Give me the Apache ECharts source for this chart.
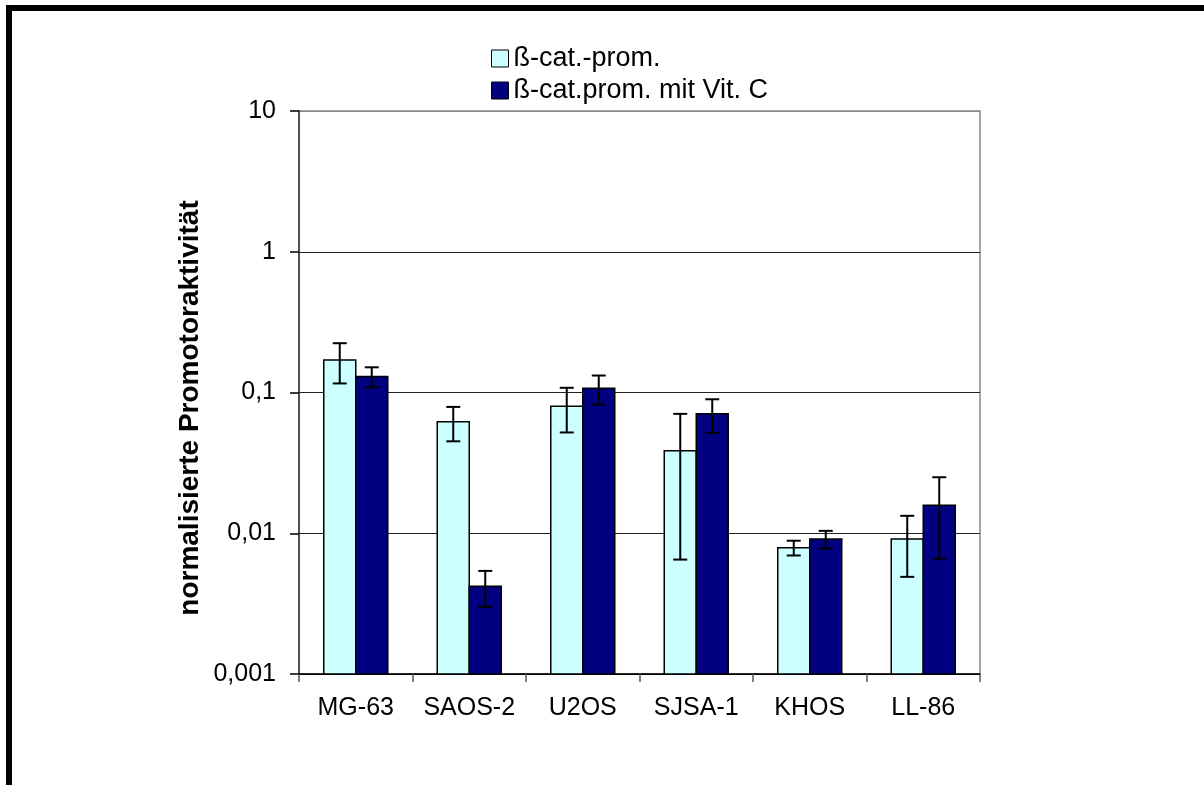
<!DOCTYPE html>
<html>
<head>
<meta charset="utf-8">
<script src="https://cdn.jsdelivr.net/npm/echarts@6/dist/echarts.min.js"></script>
<style>
  html, body { margin: 0; padding: 0; background: #fff; }
  #chart { width: 1204px; height: 785px; }
</style>
</head>
<body>
<div id="chart"></div>
<script>
// Cell lines on the category axis
const categories = ['MG-63', 'SAOS-2', 'U2OS', 'SJSA-1', 'KHOS', 'LL-86'];

// Normalised promoter activity, without vitamin C (mean and +/- error)
const promValues = [0.170, 0.062, 0.080, 0.0385, 0.0079, 0.0091];
const promErrors = [0.054, 0.017, 0.028, 0.032, 0.00095, 0.0042];

// Normalised promoter activity, with vitamin C (mean and +/- error)
const vitCValues = [0.130, 0.0042, 0.107, 0.0705, 0.0091, 0.0158];
const vitCErrors = [0.021, 0.0012, 0.025, 0.019, 0.0013, 0.0092];

// Log axis range and labelled decades
const yMin = 0.001;
const yMax = 10;

const seriesNames = ['ß-cat.-prom.', 'ß-cat.prom. mit Vit. C'];
const seriesColors = ['#CCFFFF', '#000080'];
const yAxisTitle = 'normalisierte Promotoraktivität';

const FONT = "'Liberation Sans', Arial, sans-serif";
const BAR_W = 32;

function seriesData(values, errors) {
  return values.map((v, i) => [i, v, errors[i]]);
}

// Bars rise from the bottom of the log axis, so they are drawn as rects
// from the axis minimum up to the value.
function barRenderer(shift, color) {
  return function (params, api) {
    const idx = api.value(0);
    const top = api.coord([idx, api.value(1)]);
    const base = api.coord([idx, yMin]);
    const cx = top[0] + shift;
    return {
      type: 'rect',
      shape: { x: cx - BAR_W / 2, y: top[1], width: BAR_W, height: base[1] - top[1] },
      style: { fill: color, stroke: '#000', lineWidth: 1.5 }
    };
  };
}

// Whisker with caps over the matching bar
function errorRenderer(shift) {
  return function (params, api) {
    const idx = api.value(0);
    const v = api.value(1);
    const e = api.value(2);
    const hi = api.coord([idx, v + e]);
    const lo = api.coord([idx, v - e]);
    const x = hi[0] + shift;
    const cap = 7;
    const style = { stroke: '#000', lineWidth: 2 };
    return {
      type: 'group',
      children: [
        { type: 'line', shape: { x1: x, y1: hi[1], x2: x, y2: lo[1] }, style },
        { type: 'line', shape: { x1: x - cap, y1: hi[1], x2: x + cap, y2: hi[1] }, style },
        { type: 'line', shape: { x1: x - cap, y1: lo[1], x2: x + cap, y2: lo[1] }, style }
      ]
    };
  };
}

function decadeLabel(val) {
  const exp = Math.round(Math.log10(val));
  const s = exp >= 0 ? String(Math.pow(10, exp)) : '0.' + '0'.repeat(-exp - 1) + '1';
  return s.replace('.', ',');
}

const chart = echarts.init(document.getElementById('chart'), null, { renderer: 'canvas' });

chart.setOption({
  backgroundColor: '#fff',
  animation: false,
  textStyle: { fontFamily: FONT, color: '#000' },
  grid: {
    left: 299, top: 111, right: 224, bottom: 111,
    show: true, borderColor: '#888', borderWidth: 1.5, backgroundColor: 'transparent'
  },
  legend: {
    orient: 'vertical',
    left: 491, top: 45,
    padding: 0,
    icon: 'rect',
    itemWidth: 17, itemHeight: 17,
    itemGap: 5,
    data: seriesNames.map((n, i) => ({
      name: n,
      itemStyle: { color: seriesColors[i], borderColor: '#000', borderWidth: 1 }
    })),
    textStyle: { fontFamily: FONT, fontSize: 27, color: '#000' }
  },
  xAxis: {
    type: 'category',
    data: categories,
    boundaryGap: true,
    axisLine: { lineStyle: { color: '#000', width: 1.5 } },
    axisTick: { show: true, length: 8, inside: false, lineStyle: { color: '#555', width: 1.5 } },
    axisLabel: { fontFamily: FONT, fontSize: 25, color: '#000', margin: 22, interval: 0 },
    splitLine: { show: false }
  },
  yAxis: {
    type: 'log',
    logBase: 10,
    min: yMin,
    max: yMax,
    axisLine: { show: true, lineStyle: { color: '#333', width: 1.5 } },
    axisTick: { show: true, length: 9, inside: false, lineStyle: { color: '#000', width: 1.5 } },
    axisLabel: {
      fontFamily: FONT, fontSize: 25, color: '#000', margin: 23,
      formatter: decadeLabel
    },
    splitLine: { show: true, lineStyle: { color: ['#000', '#222', '#222', '#222', '#888'], width: 1.2 } },
    minorTick: { show: false },
    minorSplitLine: { show: false }
  },
  graphic: [
    // Partial black frame (top and left edges)
    { type: 'rect', shape: { x: 6, y: 5, width: 1198, height: 6 }, style: { fill: '#000' }, silent: true },
    { type: 'rect', shape: { x: 6, y: 5, width: 6, height: 780 }, style: { fill: '#000' }, silent: true },
    {
      type: 'text',
      x: 190, y: 408,
      rotation: Math.PI / 2,
      style: {
        text: yAxisTitle,
        font: 'bold 28px ' + FONT,
        fill: '#000',
        textAlign: 'center',
        textVerticalAlign: 'middle'
      },
      silent: true
    }
  ],
  series: [
    {
      name: seriesNames[0],
      type: 'custom',
      data: seriesData(promValues, promErrors),
      encode: { x: 0, y: 1 },
      itemStyle: { color: seriesColors[0], borderColor: '#000', borderWidth: 1 },
      renderItem: barRenderer(-BAR_W / 2, seriesColors[0]),
      z: 2
    },
    {
      name: seriesNames[1],
      type: 'custom',
      data: seriesData(vitCValues, vitCErrors),
      encode: { x: 0, y: 1 },
      itemStyle: { color: seriesColors[1], borderColor: '#000', borderWidth: 1 },
      renderItem: barRenderer(BAR_W / 2, seriesColors[1]),
      z: 2
    },
    {
      name: 'err-prom',
      type: 'custom',
      data: seriesData(promValues, promErrors),
      encode: { x: 0, y: 1 },
      renderItem: errorRenderer(-BAR_W / 2),
      z: 5,
      silent: true
    },
    {
      name: 'err-vitc',
      type: 'custom',
      data: seriesData(vitCValues, vitCErrors),
      encode: { x: 0, y: 1 },
      renderItem: errorRenderer(BAR_W / 2),
      z: 5,
      silent: true
    }
  ]
});
</script>
</body>
</html>
